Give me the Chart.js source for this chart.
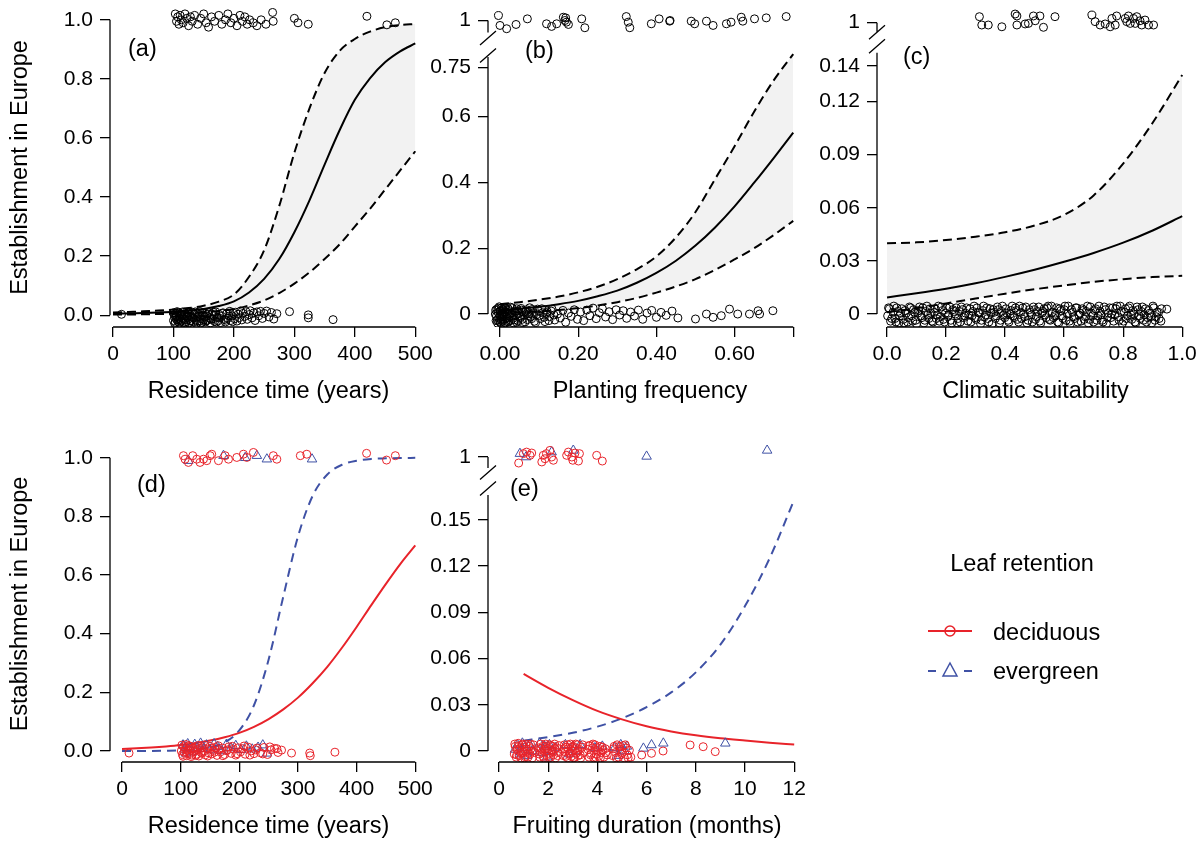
<!DOCTYPE html>
<html>
<head>
<meta charset="utf-8">
<script src="https://cdn.jsdelivr.net/npm/chart.js@4.4.1/dist/chart.umd.min.js"></script>
<style>
  html, body { margin: 0; padding: 0; background: #fff; }
  #wrap { position: relative; width: 1201px; height: 841px; overflow: hidden; }
  #wrap canvas, #wrap svg { position: absolute; left: 0; top: 0; }
</style>
</head>
<body>
<div id="wrap">
  <canvas id="pa" width="1201" height="841"></canvas>
  <canvas id="pb" width="1201" height="841"></canvas>
  <canvas id="pc" width="1201" height="841"></canvas>
  <canvas id="pd" width="1201" height="841"></canvas>
  <canvas id="pe" width="1201" height="841"></canvas>
  <svg width="1201" height="841" font-family="'Liberation Sans', Arial, sans-serif" font-size="23.5" fill="#000">
    <text x="128" y="56">(a)</text>
    <text x="525" y="58">(b)</text>
    <text x="903" y="64">(c)</text>
    <text x="137" y="492">(d)</text>
    <text x="510" y="496">(e)</text>
    <text x="1022" y="571" text-anchor="middle">Leaf retention</text>
    <line x1="928" y1="631" x2="972" y2="631" stroke="#e8232a" stroke-width="2"/>
    <circle cx="950" cy="631" r="5" fill="none" stroke="#e8232a" stroke-width="1.5"/>
    <text x="993" y="640">deciduous</text>
    <line x1="928" y1="671" x2="936" y2="671" stroke="#3f51a5" stroke-width="2"/>
    <line x1="964" y1="671" x2="972" y2="671" stroke="#3f51a5" stroke-width="2"/>
    <polygon points="950,663 957,676 943,676" fill="none" stroke="#3f51a5" stroke-width="1.5"/>
    <text x="993" y="679">evergreen</text>
  </svg>
</div>
<script>
// ---- panel (a): residence time ----
const aX = [0, 25, 50, 75, 100, 125, 150, 175, 200, 225, 250, 275, 300, 325, 350, 375, 400, 425, 450, 475, 500];
const aFit = [0.005, 0.006, 0.0075, 0.0095, 0.012, 0.016, 0.021, 0.031, 0.047, 0.077, 0.123, 0.19, 0.281, 0.389, 0.51, 0.627, 0.729, 0.802, 0.856, 0.893, 0.92];
const aUp = [0.009, 0.011, 0.013, 0.016, 0.019, 0.024, 0.032, 0.046, 0.07, 0.13, 0.22, 0.37, 0.55, 0.70, 0.82, 0.895, 0.935, 0.96, 0.975, 0.982, 0.986];
const aLo = [0.002, 0.002, 0.003, 0.004, 0.005, 0.007, 0.010, 0.014, 0.021, 0.033, 0.05, 0.075, 0.107, 0.145, 0.19, 0.24, 0.30, 0.36, 0.425, 0.49, 0.555];
const aTop = [[103,1.02],[105,0.995],[107,1.01],[109,0.985],[111,1.015],[113,1.0],[116,0.99],[119,1.02],[122,1.005],[125,0.98],[128,1.01],
  [131,0.995],[135,1.015],[140,0.985],[145,1.005],[150,1.02],[154,0.99],[158,0.975],[163,1.01],[168,0.995],[175,1.015],[180,0.985],
  [186,1.0],[190,1.02],[195,0.99],[200,1.005],[205,0.98],[210,1.015],[214,0.995],[218,1.01],[222,0.985],[226,1.0],[232,0.99],[238,0.98],
  [245,1.0],[253,0.985],[264,1.025],[265,0.995],[300,1.005],[306,0.99],[323,0.985],[420,1.012],[453,0.983],[467,0.99]];
const aBot = [[14,0.003],
  [100,-0.018],[101,0.002],[102,-0.008],[103,-0.024],[104,0.006],[105,-0.014],[106,-0.002],[107,-0.021],[108,0.009],[109,-0.011],
  [110,-0.027],[111,-0.004],[112,0.004],[113,-0.019],[114,-0.009],[115,0.011],[117,-0.025],[118,-0.001],[119,-0.016],[120,0.005],
  [121,-0.022],[122,-0.007],[124,0.008],[125,-0.013],[126,-0.026],[127,0.001],[129,-0.018],[130,-0.005],[131,0.010],[133,-0.023],
  [134,-0.010],[135,0.003],[137,-0.016],[138,-0.028],[140,0.006],[141,-0.006],[143,-0.020],[144,0.012],[146,-0.012],[147,-0.024],
  [149,0.000],[150,-0.015],[152,0.007],[153,-0.022],[155,-0.003],[156,-0.017],[158,0.009],[160,-0.009],[161,-0.026],[163,0.004],
  [165,-0.013],[167,-0.001],[168,-0.021],[170,0.011],[172,-0.007],[174,-0.019],[176,0.002],[178,-0.025],[180,-0.004],[182,0.008],
  [184,-0.014],[186,-0.023],[188,0.005],[190,-0.010],[193,0.013],[195,-0.018],[197,-0.002],[199,0.007],
  [100,0.008],[102,-0.028],[104,-0.004],[106,0.012],[108,-0.016],[110,0.006],[112,-0.022],[114,0.0],[116,-0.012],[118,0.01],[120,-0.026],
  [123,-0.003],[126,0.009],[128,-0.02],[132,-0.008],[136,0.011],[139,-0.021],[142,0.002],[145,-0.027],[148,0.008],[151,-0.006],[154,-0.019],
  [157,0.004],[162,-0.014],[166,0.01],[171,-0.023],[175,-0.009],[181,0.006],[187,-0.017],[192,-0.003],[198,-0.022],
  [201,-0.012],[203,0.010],[205,-0.020],[207,0.003],[209,-0.008],[211,0.014],[213,-0.016],[215,0.006],[218,-0.004],[220,0.012],
  [222,-0.014],[225,0.002],[227,0.015],[230,-0.009],[233,0.008],[235,-0.018],[238,0.011],[241,-0.002],[244,0.013],[247,-0.011],
  [250,0.006],[254,0.014],[258,-0.006],[262,0.009],[266,-0.013],[271,0.005],
  [292,0.012],[323,0.001],[323,-0.009],[364,-0.015]];

// ---- panel (b): planting frequency ----
const bX = [0, 0.05, 0.1, 0.15, 0.2, 0.25, 0.3, 0.35, 0.4, 0.45, 0.5, 0.55, 0.6, 0.65, 0.7, 0.75];
const bFit = [0.012, 0.016, 0.022, 0.030, 0.040, 0.054, 0.071, 0.095, 0.125, 0.162, 0.208, 0.263, 0.327, 0.399, 0.474, 0.551];
const bUp = [0.030, 0.036, 0.044, 0.053, 0.066, 0.083, 0.106, 0.136, 0.175, 0.233, 0.31, 0.41, 0.51, 0.615, 0.71, 0.79];
const bLo = [0.003, 0.005, 0.008, 0.012, 0.018, 0.026, 0.036, 0.049, 0.065, 0.084, 0.106, 0.134, 0.166, 0.20, 0.24, 0.283];
const bTop = [[-0.004,1.015],[0,0.985],[0.017,0.975],[0.041,0.988],[0.070,1.005],[0.119,0.99],[0.132,0.982],[0.145,0.99],[0.162,1.01],
  [0.166,1.0],[0.168,1.008],[0.17,0.995],[0.175,0.988],[0.209,1.005],[0.217,0.978],[0.323,1.012],[0.328,0.995],[0.332,0.978],[0.387,0.99],
  [0.407,1.005],[0.434,0.998],[0.435,1.0],[0.489,0.998],[0.498,0.99],[0.528,0.998],[0.545,0.985],[0.579,0.99],[0.591,0.995],[0.617,1.01],
  [0.621,0.998],[0.651,1.005],[0.681,1.008],[0.732,1.012]];
const bBot = [[-0.012,0.0],[-0.01,-0.02],[-0.008,0.015],[-0.006,-0.028],[-0.005,0.005],[-0.003,-0.012],[-0.002,0.022],[0.0,-0.005],
  [0.001,-0.025],[0.002,0.01],[0.003,-0.017],[0.004,0.019],[0.005,-0.008],[0.006,0.003],[0.007,-0.022],[0.008,0.013],[0.009,-0.002],
  [0.01,-0.03],[0.012,0.007],[0.013,-0.015],[0.015,0.017],[0.017,-0.01],[0.018,0.0],[0.02,-0.024],[0.022,0.011],[0.024,-0.006],
  [0.026,0.021],[0.028,-0.019],[0.03,0.004],[0.033,-0.013],[0.035,-0.027],[0.038,0.009],[0.04,-0.004],[0.043,0.016],[0.046,-0.021],
  [0.049,0.002],[0.052,-0.011],[0.055,0.012],[0.058,-0.026],[0.062,-0.003],[0.066,0.008],[0.07,-0.017],[0.074,0.001],[0.078,-0.009],
  [0.083,0.014],[0.088,-0.022],[0.093,-0.002],[0.098,0.01],[0.103,-0.014],[0.109,0.004],[0.115,-0.023],[0.121,0.007],[0.127,-0.008],
  [0.133,0.015],[0.14,-0.018],[0.147,0.0],[0.154,-0.012],[0.161,0.011],[0.168,-0.025],[0.175,0.003],[0.182,-0.007],[0.19,0.013],
  [-0.011,0.012],[-0.009,-0.006],[-0.007,-0.018],[-0.004,0.018],[-0.001,-0.022],[0.0,0.009],[0.002,-0.029],[0.004,-0.003],[0.006,0.014],
  [0.008,-0.016],[0.011,0.02],[0.014,-0.027],[0.016,0.006],[0.019,-0.013],[0.021,0.016],[0.023,-0.021],[0.025,0.0],[0.029,-0.008],
  [0.031,0.019],[0.036,-0.018],[0.039,0.005],[0.042,-0.025],[0.045,0.01],[0.05,-0.007],[0.054,0.017],[0.057,-0.016],[0.06,0.006],
  [0.064,-0.024],[0.068,0.013],[0.072,-0.005],[0.076,0.019],[0.081,-0.014],[0.086,0.004],[0.091,-0.026],[0.096,0.015],[0.101,-0.004],
  [0.107,0.016],[0.113,-0.01],[0.119,0.003],[0.125,-0.02],[0.131,0.009],[0.138,-0.003],
  [0.198,-0.016],[0.206,0.006],[0.214,-0.02],[0.222,0.012],[0.23,-0.005],[0.238,0.018],[0.246,-0.014],[0.254,0.004],[0.262,0.016],
  [0.27,-0.009],[0.279,0.007],[0.288,-0.017],[0.297,0.013],[0.306,-0.003],[0.315,0.01],[0.324,-0.013],[0.334,0.006],[0.344,-0.006],
  [0.354,0.012],[0.365,-0.016],[0.376,0.003],[0.388,0.011],[0.4,-0.01],[0.412,0.005],[0.425,-0.004],[0.44,0.009],[0.455,-0.012],
  [0.5,-0.015],[0.528,0.0],[0.545,-0.01],[0.566,-0.005],[0.587,0.015],[0.608,0.0],[0.638,0.0],[0.66,0.01],[0.664,0.0],[0.698,0.01]];

// ---- panel (c): climatic suitability ----
const cX = [0, 0.1, 0.2, 0.3, 0.4, 0.5, 0.6, 0.7, 0.8, 0.9, 1.0];
const cFit = [0.0094, 0.0117, 0.0143, 0.0174, 0.0210, 0.0250, 0.0295, 0.0345, 0.0403, 0.0472, 0.0553];
const cUp = [0.040, 0.0405, 0.0418, 0.0437, 0.0462, 0.050, 0.056, 0.067, 0.085, 0.108, 0.135];
const cLo = [0.001, 0.0033, 0.006, 0.0088, 0.0115, 0.014, 0.0162, 0.0182, 0.0197, 0.0209, 0.0216];
const cTop = [[0.313,1.0034],[0.321,0.9987],[0.343,0.9987],[0.389,0.9977],[0.434,1.0049],[0.44,1.0038],[0.44,0.9987],[0.468,0.9993],
  [0.479,0.9996],[0.496,1.0038],[0.502,1.0011],[0.518,1.0038],[0.53,0.9974],[0.569,1.0034],[0.694,1.0043],[0.705,1.0006],[0.722,0.9987],
  [0.739,0.9993],[0.756,0.9977],[0.762,1.0024],[0.773,0.9987],[0.778,1.0038],[0.807,1.0024],[0.812,1.0006],[0.818,1.0038],[0.824,0.9996],
  [0.835,1.0024],[0.841,0.9996],[0.846,1.0034],[0.857,1.0011],[0.863,0.9987],[0.874,1.0015],[0.886,0.9987],[0.903,0.9987]];
const cBot = [[0.002,-0.001],[0.008,0.003],[0.012,-0.004],[0.02,0.001],[0.027,-0.0025],[0.033,0.0035],[0.04,-0.005],[0.046,0.0005],
  [0.055,-0.003],[0.061,0.002],[0.07,-0.0045],[0.076,0.004],[0.083,-0.001],[0.09,0.0025],[0.097,-0.0035],[0.104,0.0005],[0.11,0.004],
  [0.118,-0.002],[0.125,-0.005],[0.131,0.0015],[0.138,-0.0005],[0.146,0.003],[0.152,-0.004],[0.16,0.001],[0.167,-0.0025],[0.174,0.0045],
  [0.181,-0.0015],[0.188,0.002],[0.195,-0.0045],[0.202,0.0035],[0.209,-0.0005],[0.216,-0.0035],[0.223,0.0025],[0.231,0.0],[0.238,-0.005],
  [0.245,0.0015],[0.252,0.004],[0.259,-0.002],[0.266,0.0005],[0.274,-0.004],[0.281,0.003],[0.288,-0.001],[0.295,0.0045],[0.302,-0.003],
  [0.309,0.001],[0.317,-0.0055],[0.324,0.002],[0.331,-0.0015],[0.338,0.0035],[0.345,-0.0045],[0.352,0.0005],[0.36,0.0025],[0.367,-0.0025],
  [0.374,0.004],[0.381,-0.005],[0.388,0.0015],[0.395,-0.0005],[0.403,0.003],[0.41,-0.0035],[0.417,0.0],[0.424,0.0045],[0.431,-0.002],
  [0.438,0.002],[0.446,-0.0045],[0.453,0.001],[0.46,0.0035],[0.467,-0.0015],[0.474,-0.005],[0.482,0.0025],[0.489,-0.0005],[0.496,0.004],
  [0.503,-0.003],[0.51,0.0015],[0.517,-0.004],[0.525,0.0005],[0.532,0.003],[0.539,-0.002],[0.546,0.0045],[0.553,-0.0035],[0.56,0.001],
  [0.568,-0.001],[0.575,0.0035],[0.582,-0.005],[0.589,0.002],[0.596,-0.0025],[0.603,0.0045],[0.611,0.0],[0.618,-0.004],[0.625,0.0025],
  [0.632,-0.0015],[0.639,0.0035],[0.646,-0.0045],[0.654,0.0005],[0.661,0.003],[0.668,-0.003],[0.675,0.0015],[0.682,-0.005],[0.689,0.004],
  [0.697,-0.001],[0.704,0.002],[0.711,-0.0035],[0.718,0.0045],[0.725,-0.0005],[0.732,-0.0045],[0.74,0.0025],[0.747,-0.002],[0.754,0.0035],
  [0.761,0.0],[0.768,-0.004],[0.775,0.003],[0.783,-0.0015],[0.79,0.0045],[0.797,-0.0055],[0.804,0.001],[0.811,-0.0025],[0.818,0.0035],
  [0.826,-0.0005],[0.833,0.002],[0.84,-0.0045],[0.847,0.004],[0.854,-0.001],[0.861,0.0015],[0.869,-0.0035],[0.876,0.003],[0.883,-0.002],
  [0.89,0.0005],[0.897,-0.005],[0.904,0.0035],[0.912,-0.0015],[0.92,0.001],[0.928,-0.004],[0.93,0.003],
  [0.005,0.0035],[0.016,-0.0025],[0.023,0.0045],[0.03,-0.0045],[0.037,0.0015],[0.043,-0.001],[0.05,0.003],[0.058,-0.005],[0.065,0.0005],
  [0.073,-0.002],[0.08,0.0035],[0.087,-0.004],[0.094,0.001],[0.1,-0.0055],[0.107,0.002],[0.114,-0.001],[0.121,0.0035],[0.128,-0.0035],
  [0.135,0.0045],[0.142,-0.0025],[0.149,0.0005],[0.156,-0.0045],[0.163,0.003],[0.17,-0.0005],[0.177,-0.004],[0.184,0.004],[0.191,-0.003],
  [0.198,0.0005],[0.206,-0.0015],[0.213,0.004],[0.219,-0.005],[0.227,0.0015],[0.234,0.0035],[0.241,-0.0025],[0.248,-0.0045],[0.255,0.0025],
  [0.262,-0.001],[0.27,0.0035],[0.277,-0.0005],[0.284,-0.0045],[0.291,0.0015],[0.298,-0.002],[0.305,0.0035],[0.313,0.0005],[0.32,-0.0035],
  [0.327,0.0045],[0.334,-0.0005],[0.341,-0.0025],[0.349,0.003],[0.356,-0.0055],[0.363,0.001],[0.37,-0.001],[0.377,0.0025],[0.384,-0.0035],
  [0.391,0.0045],[0.399,-0.002],[0.406,0.0005],[0.413,-0.0045],[0.42,0.002],[0.427,-0.001],[0.435,0.0035],[0.442,-0.003],[0.449,0.0045],
  [0.456,-0.0025],[0.463,0.0],[0.47,0.004],[0.478,-0.0035],[0.485,0.001],[0.492,-0.0045],[0.499,0.0025],[0.506,-0.0015],[0.514,0.004],
  [0.521,-0.005],[0.528,0.0015],[0.535,-0.0005],[0.542,0.0035],[0.55,-0.003],[0.557,0.0045],[0.564,-0.002],[0.571,0.0005],[0.578,-0.0045],
  [0.585,0.003],[0.593,-0.001],[0.6,0.0025],[0.607,-0.0035],[0.614,0.0045],[0.621,-0.0055],[0.629,0.001],[0.636,-0.0025],[0.643,0.0035],
  [0.65,-0.0005],[0.657,-0.004],[0.664,0.002],[0.672,-0.0015],[0.679,0.0045],[0.686,-0.003],[0.693,0.0005],[0.7,-0.0045],[0.707,0.003],
  [0.715,-0.001],[0.722,0.0015],[0.729,-0.0035],[0.736,0.004],[0.743,-0.0055],[0.75,0.0005],[0.758,-0.002],[0.765,0.0035],[0.772,-0.0005],
  [0.779,0.0045],[0.786,-0.0035],[0.793,0.0015],[0.801,-0.004],[0.808,0.003],[0.815,-0.001],[0.822,0.0045],[0.829,-0.003],[0.836,0.0],
  [0.843,-0.005],[0.851,0.0025],[0.858,-0.0025],[0.865,0.004],[0.872,-0.0005],[0.879,-0.0045],[0.886,0.002],[0.894,-0.0015],[0.901,0.0045],
  [0.908,-0.0035],[0.915,0.001],[0.922,-0.0025],[0.948,0.0028]];

// ---- panel (d): residence time by leaf retention ----
const dX = [0, 25, 50, 75, 100, 125, 150, 175, 200, 225, 250, 275, 300, 325, 350, 375, 400, 425, 450, 475, 500];
const dDecid = [0.007, 0.0092, 0.0119, 0.0155, 0.0202, 0.0269, 0.0356, 0.047, 0.0618, 0.0824, 0.109, 0.142, 0.182, 0.231, 0.287, 0.352, 0.423, 0.4975, 0.57, 0.639, 0.701];
const dEver = [0.0001, 0.0002, 0.0004, 0.0009, 0.002, 0.005, 0.0123, 0.0296, 0.070, 0.156, 0.312, 0.527, 0.731, 0.87, 0.943, 0.976, 0.99, 0.996, 0.998, 0.999, 0.9996];
const dTopDecid = [[104.7,1.007],[107.5,0.995],[113.2,0.984],[120.6,1.007],[127.4,0.995],[133,0.984],[138.9,0.995],[144.5,0.99],[150.2,1.007],
  [153,1.012],[164.4,0.99],[175.8,1.007],[181.5,0.995],[195.7,1.001],[207,1.012],[212.7,1.001],[224,1.018],[258,1.007],[264,0.995],
  [304,1.007],[315,1.012],[417,1.015],[451,0.992],[466,1.007]];
const dTopEver = [[113,0.99],[173,1.007],[210,1.0],[230,1.007],[247,0.995],[324,0.995]];
const dBotDecid = [[12,-0.007],[101,0.0],[103,-0.012],[105,0.014],[106,-0.004],[108,0.008],[110,-0.016],[112,0.003],[114,0.018],[115,-0.009],
  [117,0.006],[119,-0.014],[121,0.011],[123,-0.002],[125,0.015],[127,-0.011],[129,0.004],[131,-0.017],[133,0.009],[135,-0.005],[137,0.013],
  [140,0.0],[142,-0.013],[145,0.007],[147,-0.006],[150,0.016],[153,-0.01],[156,0.002],[159,0.012],[162,-0.015],[165,0.005],[168,-0.003],
  [171,0.01],[175,-0.012],[178,0.001],[182,0.014],[186,-0.008],[190,0.006],[194,-0.014],[198,0.011],[202,-0.003],[206,0.008],[210,-0.011],
  [215,0.013],[220,0.0],[225,-0.009],[230,0.01],[236,-0.006],[242,0.012],[248,-0.012],[254,0.004],[260,0.009],[266,-0.005],[272,0.003],
  [102,0.02],[104,-0.018],[109,0.022],[111,-0.006],[116,0.016],[118,-0.019],[122,0.008],[126,-0.015],[130,0.019],[136,-0.008],[141,0.02],
  [146,-0.017],[152,0.009],[158,-0.004],[164,0.018],[172,-0.016],[180,0.004],[188,0.016],[196,-0.009],[208,0.017],[218,-0.014],[228,0.004],
  [240,-0.01],[252,0.014],[264,0.008],
  [289,-0.007],[320,-0.007],[321,-0.016],[363,-0.004]];
const dBotEver = [[104,0.02],[107,0.006],[109,-0.008],[112,0.024],[116,0.01],[120,-0.004],[124,0.022],[128,0.012],[134,0.026],[139,0.008],
  [144,0.02],[150,0.003],[157,0.024],[163,0.014],[170,0.0],[178,0.022],[186,0.01],[194,0.018],[203,0.004],[212,0.016],[222,0.006],
  [232,0.012],[240,0.02],[247,-0.008]];

// ---- panel (e): fruiting duration by leaf retention ----
const eX = [1, 2, 3, 4, 5, 6, 7, 8, 9, 10, 11, 12];
const eDecid = [0.050, 0.041, 0.033, 0.026, 0.0205, 0.016, 0.0127, 0.0102, 0.0083, 0.0068, 0.0054, 0.0042];
const eEver = [0.0067, 0.0090, 0.0118, 0.0158, 0.0212, 0.0285, 0.038, 0.051, 0.069, 0.094, 0.125, 0.163];
const eTopDecid = [[0.8,0.9961],[0.99,1.0022],[1.12,1.0032],[1.26,1.0011],[1.33,1.0026],[1.74,0.9968],[1.8,1.0011],[1.87,0.9989],
  [1.93,1.0022],[2.07,1.0043],[2.14,1.0],[2.21,0.9979],[2.75,1.0011],[2.82,1.0032],[2.96,1.0],[3.0,0.9979],[3.09,1.0026],[3.23,0.9974],
  [3.27,1.0022],[3.97,1.0011],[4.2,0.9974]];
const eTopEver = [[0.85,1.0022],[1.1,1.0],[2.14,1.0032],[3.02,1.0043],[6.0,1.0004],[10.9,1.0043]];
const eBotDecid = [[0.62,-0.002],[0.66,0.003],[0.7,-0.004],[0.74,0.001],[0.78,0.005],[0.82,-0.003],[0.86,0.002],[0.9,-0.0045],[0.94,0.004],
  [0.98,-0.001],[1.02,0.0025],[1.06,-0.0035],[1.1,0.0045],[1.14,0.0],[1.18,-0.004],[1.22,0.003],[1.26,-0.002],[1.3,0.0015],[1.35,-0.0045],
  [1.4,0.004],[1.45,-0.001],
  [0.64,0.0045],[0.72,-0.0025],[0.8,0.003],[0.88,-0.001],[0.96,0.0045],[1.04,-0.0045],[1.12,0.0015],[1.2,-0.0015],[1.28,0.0045],[1.38,0.0],
  [1.62,0.002],[1.66,-0.004],[1.7,0.0045],[1.74,-0.001],[1.78,0.003],[1.82,-0.0045],[1.86,0.001],[1.9,0.0045],[1.94,-0.003],[1.98,0.0015],
  [2.02,-0.0015],[2.06,0.004],[2.1,-0.004],[2.14,0.0005],[2.18,0.003],[2.22,-0.0025],[2.26,0.0045],[2.3,-0.0045],[2.35,0.002],[2.4,-0.001],
  [2.44,0.0035],
  [1.64,-0.002],[1.72,0.0015],[1.8,-0.0035],[1.88,0.003],[1.96,0.0],[2.04,-0.0045],[2.12,0.0035],[2.2,-0.0005],[2.28,0.0015],[2.38,-0.003],
  [2.62,-0.003],[2.66,0.004],[2.7,-0.0005],[2.74,0.0025],[2.78,-0.0045],[2.82,0.0015],[2.86,-0.002],[2.9,0.0045],[2.94,-0.0035],[2.98,0.0],
  [3.02,0.003],[3.06,-0.004],[3.1,0.002],[3.14,-0.0015],[3.18,0.004],[3.22,-0.003],[3.27,0.001],[3.32,-0.0045],[3.38,0.0025],[3.44,-0.001],
  [2.64,0.0015],[2.72,-0.0035],[2.8,0.004],[2.88,-0.001],[2.96,0.0025],[3.04,-0.0045],[3.12,0.0045],[3.2,0.0],[3.3,-0.0025],[3.4,0.004],
  [3.62,0.001],[3.66,-0.004],[3.7,0.0035],[3.75,-0.0015],[3.8,0.002],[3.85,-0.0045],[3.9,0.004],[3.95,-0.002],[4.0,0.0005],[4.05,-0.0035],
  [4.1,0.003],[4.15,-0.001],[4.2,0.0025],[4.26,-0.004],[4.32,0.0015],[4.4,-0.0025],
  [3.64,0.0035],[3.72,-0.0025],[3.82,0.0045],[3.92,-0.004],[4.02,0.002],[4.12,-0.0045],[4.22,0.0005],[4.35,-0.001],
  [4.62,-0.003],[4.68,0.003],[4.74,-0.001],[4.8,0.004],[4.86,-0.004],[4.92,0.001],[4.98,-0.002],[5.04,0.0035],[5.1,-0.0045],[5.16,0.002],
  [5.22,-0.0025],[5.3,0.0005],[5.36,-0.004],
  [4.65,0.0015],[4.77,-0.0045],[4.89,0.003],[5.01,-0.001],[5.13,0.004],[5.25,-0.0045],
  [5.8,-0.0026],[6.2,-0.0015],[6.67,0.0],[7.77,0.0039],[8.3,0.0028],[8.79,-0.0004]];
const eBotEver = [[0.65,0.001],[0.75,0.004],[0.85,-0.002],[0.95,0.005],[1.05,0.002],[1.15,-0.003],[1.25,0.004],[1.35,0.0],
  [1.65,0.005],[1.75,-0.001],[1.85,0.003],[1.95,-0.004],[2.05,0.004],[2.15,0.0],[2.3,0.002],
  [2.7,0.004],[2.85,-0.002],[3.0,0.003],[3.15,0.0],[3.3,0.004],[3.9,0.002],[4.2,0.003],
  [4.7,0.002],[4.85,-0.003],[4.95,0.004],[5.1,0.0],[5.2,0.003],
  [5.87,0.0017],[6.2,0.0039],[6.68,0.005],[9.2,0.005]];

// where the "1" of a broken y axis sits on the display scale
const bBreak = 0.892, cBreak = 0.1645, eBreak = 0.1907;

const RED = '#e8232a', BLUE = '#3f51a5', GREY = '#f2f2f2';
Chart.defaults.font.family = "'Liberation Sans', Arial, Helvetica, sans-serif";
Chart.defaults.color = '#000';

// R-style axes: lines only between the end ticks, with an optional break
const rAxes = {
  id: 'rAxes',
  afterDraw(chart, args, o) {
    const ctx = chart.ctx, xs = chart.scales.x, ys = chart.scales.y, ca = chart.chartArea;
    ctx.save();
    ctx.strokeStyle = '#000';
    ctx.lineWidth = 1.3;
    ctx.beginPath();
    ctx.moveTo(xs.getPixelForValue(o.xFrom), ca.bottom);
    ctx.lineTo(xs.getPixelForValue(o.xTo), ca.bottom);
    const y0 = ys.getPixelForValue(0);
    if (!o.brk) {
      ctx.moveTo(ca.left, y0);
      ctx.lineTo(ca.left, ys.getPixelForValue(o.yTo));
    } else {
      const yt = ys.getPixelForValue(o.brk.at);
      ctx.moveTo(ca.left, y0);
      ctx.lineTo(ca.left, yt + o.brk.main);
      ctx.moveTo(ca.left, yt);
      ctx.lineTo(ca.left, yt + o.brk.seg);
      for (const c of [o.brk.s1, o.brk.s2]) {
        ctx.moveTo(ca.left - 8, yt + c + 7);
        ctx.lineTo(ca.left + 8, yt + c - 7);
      }
    }
    ctx.stroke();
    ctx.restore();
  }
};

function pts(arr, color, style, r, brk) {
  return {
    type: 'scatter',
    data: arr.map(([x, y]) => ({x: x, y: (brk !== undefined && y > 0.5) ? y - 1 + brk : y})),
    pointStyle: style,
    pointRadius: r,
    pointBorderColor: color,
    pointBackgroundColor: 'rgba(0,0,0,0)',
    pointBorderWidth: 1,
    showLine: false
  };
}

function curve(xs, ys, color, dash, fill) {
  return {
    type: 'line',
    data: xs.map((x, i) => ({x: x, y: ys[i]})),
    borderColor: color,
    borderWidth: 2,
    borderDash: dash || [],
    pointRadius: 0,
    cubicInterpolationMode: 'monotone',
    fill: fill || false,
    backgroundColor: GREY
  };
}

function panel(id, o) {
  return new Chart(document.getElementById(id), {
    type: 'scatter',
    data: {datasets: o.datasets},
    options: {
      responsive: false,
      animation: false,
      events: [],
      layout: {padding: o.pad},
      plugins: {legend: {display: false}, tooltip: {enabled: false}, rAxes: o.axes},
      scales: {
        x: {
          type: 'linear', min: o.xMin, max: o.xMax, bounds: 'data',
          grid: {drawOnChartArea: false, drawTicks: true, tickLength: 10, color: '#000', lineWidth: 1.3},
          border: {display: false},
          ticks: {autoSkip: false, maxRotation: 0, padding: 5, font: {size: 21}, callback: (v, i) => o.xLabels[i]},
          afterBuildTicks: s => { s.ticks = o.xTicks.map(v => ({value: v})); },
          afterFit: s => { s.height = 79; s.paddingLeft = 0; s.paddingRight = 0; },
          title: {display: true, text: o.xTitle, font: {size: 23.5}, padding: {top: 0, bottom: 0}}
        },
        y: {
          type: 'linear', min: o.yMin, max: o.yMax, bounds: 'data',
          grid: {drawOnChartArea: false, drawTicks: true, tickLength: 10, color: '#000', lineWidth: 1.3},
          border: {display: false},
          ticks: {autoSkip: false, padding: 7, font: {size: 21}, callback: (v, i) => o.yLabels[i]},
          afterBuildTicks: s => { s.ticks = o.yTicks.map(v => ({value: v})); },
          afterFit: s => { s.width = o.yWidth; s.paddingTop = 0; s.paddingBottom = 0; },
          title: {display: !!o.yTitle, text: o.yTitle || '', font: {size: 23.5}, padding: {top: 6, bottom: 0}}
        }
      }
    },
    plugins: [rAxes]
  });
}

const probTicks = [0, 0.2, 0.4, 0.6, 0.8, 1.0];
const probLabels = ['0.0', '0.2', '0.4', '0.6', '0.8', '1.0'];
const yearTicks = [0, 100, 200, 300, 400, 500];
const yearLabels = ['0', '100', '200', '300', '400', '500'];

panel('pa', {
  pad: {left: 0, top: 8, right: 774, bottom: 435}, yWidth: 110,
  xMin: -5, xMax: 519.4, yMin: -0.04, yMax: 1.04,
  xTicks: yearTicks, xLabels: yearLabels, yTicks: probTicks, yLabels: probLabels,
  xTitle: 'Residence time (years)', yTitle: 'Establishment in Europe',
  axes: {xFrom: 0, xTo: 500, yTo: 1},
  datasets: [
    pts(aTop, '#000', 'circle', 4),
    pts(aBot, '#000', 'circle', 4),
    curve(aX, aFit, '#000'),
    curve(aX, aLo, '#000', [9, 5]),
    curve(aX, aUp, '#000', [9, 5], '-1')
  ]
});

panel('pb', {
  pad: {left: 388, top: 8, right: 389, bottom: 435}, yWidth: 100,
  xMin: -0.0307, xMax: 0.798, yMin: -0.0394, yMax: 0.930,
  xTicks: [0, 0.2, 0.4, 0.6, 0.75], xLabels: ['0.00', '0.20', '0.40', '0.60', ''],
  yTicks: [0, 0.2, 0.4, 0.6, 0.75, bBreak], yLabels: ['0', '0.2', '0.4', '0.6', '0.75', '1'],
  xTitle: 'Planting frequency',
  axes: {xFrom: 0, xTo: 0.75, brk: {at: bBreak, seg: 12, s1: 17.5, s2: 35, main: 36.5}},
  datasets: [
    pts(bTop, '#000', 'circle', 4, bBreak),
    pts(bBot, '#000', 'circle', 4),
    curve(bX, bFit, '#000'),
    curve(bX, bLo, '#000', [9, 5]),
    curve(bX, bUp, '#000', [9, 5], '-1')
  ]
});

panel('pc', {
  pad: {left: 777, top: 8, right: 7, bottom: 435}, yWidth: 100,
  xMin: -0.034, xMax: 1.04, yMin: -0.0073, yMax: 0.1728,
  xTicks: [0, 0.2, 0.4, 0.6, 0.8, 1.0], xLabels: ['0.0', '0.2', '0.4', '0.6', '0.8', '1.0'],
  yTicks: [0, 0.03, 0.06, 0.09, 0.12, 0.14, cBreak], yLabels: ['0', '0.03', '0.06', '0.09', '0.12', '0.14', '1'],
  xTitle: 'Climatic suitability',
  axes: {xFrom: 0, xTo: 1, brk: {at: cBreak, seg: 9, s1: 9.5, s2: 23.5, main: 30}},
  datasets: [
    pts(cTop, '#000', 'circle', 4, cBreak),
    pts(cBot, '#000', 'circle', 4),
    curve(cX, cFit, '#000'),
    curve(cX, cLo, '#000', [9, 5]),
    curve(cX, cUp, '#000', [9, 5], '-1')
  ]
});

panel('pd', {
  pad: {left: 0, top: 446, right: 774, bottom: 0}, yWidth: 110,
  xMin: -20.5, xMax: 520, yMin: -0.0375, yMax: 1.04,
  xTicks: yearTicks, xLabels: yearLabels, yTicks: probTicks, yLabels: probLabels,
  xTitle: 'Residence time (years)', yTitle: 'Establishment in Europe',
  axes: {xFrom: 0, xTo: 500, yTo: 1},
  datasets: [
    pts(dTopDecid, RED, 'circle', 4),
    pts(dTopEver, BLUE, 'triangle', 5.5),
    pts(dBotDecid, RED, 'circle', 4),
    pts(dBotEver, BLUE, 'triangle', 5.5),
    curve(dX, dDecid, RED),
    curve(dX, dEver, BLUE, [9, 6])
  ]
});

panel('pe', {
  pad: {left: 388, top: 445, right: 395, bottom: 0}, yWidth: 100,
  xMin: -0.4475, xMax: 12.48, yMin: -0.00713, yMax: 0.1985,
  xTicks: [0, 2, 4, 6, 8, 10, 12], xLabels: ['0', '2', '4', '6', '8', '10', '12'],
  yTicks: [0, 0.03, 0.06, 0.09, 0.12, 0.15, eBreak], yLabels: ['0', '0.03', '0.06', '0.09', '0.12', '0.15', '1'],
  xTitle: 'Fruiting duration (months)',
  axes: {xFrom: 0, xTo: 12, brk: {at: eBreak, seg: 11, s1: 15.5, s2: 31.5, main: 38}},
  datasets: [
    pts(eTopDecid, RED, 'circle', 4, eBreak),
    pts(eTopEver, BLUE, 'triangle', 5.5, eBreak),
    pts(eBotDecid, RED, 'circle', 4),
    pts(eBotEver, BLUE, 'triangle', 5.5),
    curve(eX, eDecid, RED),
    curve(eX, eEver, BLUE, [9, 6])
  ]
});
</script>
</body>
</html>
